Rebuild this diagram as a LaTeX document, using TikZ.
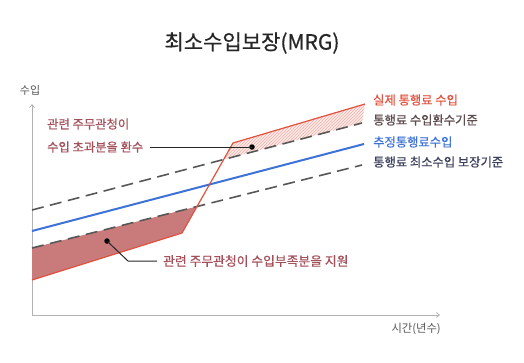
\documentclass[tikz,border=0pt]{standalone}
\usepackage{fontspec}
\setmainfont{Noto Sans CJK KR}
\newfontfamily\medfont[FakeBold=0.6]{Noto Sans CJK KR}
\usepackage{xcolor}
\usetikzlibrary{arrows.meta, calc, patterns, positioning}

\definecolor{actualred}{HTML}{E0523F}
\definecolor{supportfill}{HTML}{C97B7B}
\definecolor{estblue}{HTML}{3D72D6}
\definecolor{basegray}{HTML}{575757}
\definecolor{notered}{HTML}{A4505A}
\definecolor{refundtxt}{HTML}{5E4B4E}
\definecolor{mrgtxt}{HTML}{3B405C}

\tikzset{
  base/.style={basegray, line width=1.6pt, dash pattern=on 12pt off 6.5pt},
  axis/.style={gray!60, line width=0.8pt, -{Straight Barb[length=3pt,width=5pt]}},
  lbl/.style={inner sep=0pt, anchor=west, font=\medfont\fontsize{12.3}{14}\selectfont},
  leader/.style={black!85, line width=1pt},
  dot/.style={circle, fill=black, inner sep=0pt, minimum size=5.5pt}
}

\begin{document}
\begin{tikzpicture}[x=1pt, y=-1pt]
        \useasboundingbox (0,0) rectangle (524,362);
        \node[font=\medfont\fontsize{21}{24}\selectfont, black!85] (title) at (252,43) {최소수입보장(MRG)};

        \coordinate (o) at (32,315);
        \coordinate (ytip) at (32,104);
        \coordinate (xtip) at (440,315);
        \draw[axis] (o) -- (ytip);
        \draw[axis] (o) -- (xtip);
        \node[font=\fontsize{11}{13}\selectfont, basegray] (ylab) at (30,90) {수입};
        \node[font=\fontsize{11.3}{13}\selectfont, basegray, anchor=east, inner sep=0pt] (xlab) at (441,329) {시간(년수)};

        \coordinate (r0) at (32,280);
        \coordinate (r1) at (182,233);
        \coordinate (r2) at (233,143);
        \coordinate (r3) at (365,104);
        \coordinate (u0) at (32,210);
        \coordinate (u1) at (362,123);
        \coordinate (b0) at (32,231);
        \coordinate (b1) at (364,144);
        \coordinate (m0) at (32,248);
        \coordinate (m1) at (362,165);

        \fill[supportfill] (m0) -- (intersection of m0--m1 and r1--r2) -- (r1) -- (r0) -- cycle;
        \fill[actualred!12] (intersection of u0--u1 and r1--r2) -- (r2) -- (r3) -- (u1) -- cycle;
        \fill[pattern=north east lines, pattern color=actualred!45] (intersection of u0--u1 and r1--r2) -- (r2) -- (r3) -- (u1) -- cycle;

        \draw[base] (u0) -- (u1);
        \draw[base] (m0) -- (m1);
        \draw[estblue, line width=2pt] (b0) -- (b1);
        \draw[actualred, line width=1.2pt, line join=round] (r0) -- (r1) -- (r2) -- (r3);

        \node[lbl, actualred] (actual) at (373,100) {실제 통행료 수입};
        \node[lbl, refundtxt] (refund) at (373,120) {통행료 수입환수기준};
        \node[lbl, estblue] (est) at (373,142) {추정통행료수입};
        \node[lbl, mrgtxt] (mrg) at (373,162) {통행료 최소수입 보장기준};

        \node[lbl, notered] (excess1) at (47,124) {관련 주무관청이};
        \node[lbl, notered] (excess2) at (47,147) {수입 초과분을 환수};
        \node[dot] (updot) at (252,147) {};
        \draw[leader] (updot.center) -- ($(excess2.east)+(7,0)$);

        \node[lbl, notered, font=\medfont\fontsize{12.8}{14}\selectfont] (support) at (163,261) {관련 주무관청이 수입부족분을 지원};
        \node[dot] (lowdot) at (107,241) {};
        \coordinate (bend) at (128,261);
        \draw[leader] (lowdot.center) -- (bend) -- ($(support.west)+(-6,0)$);
    \end{tikzpicture}
\end{document}
